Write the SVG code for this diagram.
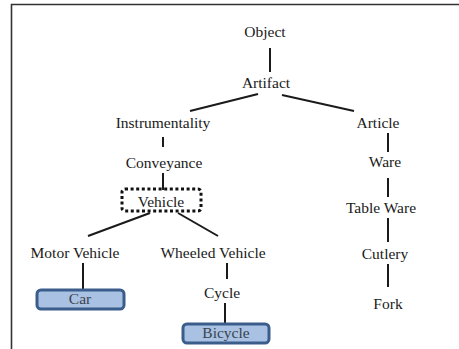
<svg xmlns="http://www.w3.org/2000/svg" width="459" height="349" viewBox="0 0 459 349">
<style>
text{font-family:"Liberation Serif","Times New Roman",serif;font-size:15.5px;fill:#1a1a1a;text-anchor:middle}
.c line{stroke:#1a1a1a;stroke-width:2;fill:none}
.leaf{fill:#a9c1e2;stroke:#3b5d8c;stroke-width:3}
.leaf-t{fill:#3a4450}
.dot{fill:none;stroke:#111;stroke-width:3;stroke-dasharray:3 2.6}
</style>
<rect width="459" height="349" fill="#fff"/>
<path d="M11.5 349V4.5H459" fill="none" stroke="#333" stroke-width="1.6"/>
<g id="connectors" class="c">
<line x1="270" y1="48" x2="270" y2="72"/>
<line x1="258" y1="94" x2="190" y2="111"/>
<line x1="282" y1="95" x2="354" y2="111"/>
<line x1="163" y1="137" x2="163" y2="147"/>
<line x1="163" y1="173" x2="163" y2="190"/>
<line x1="150" y1="213" x2="88" y2="236"/>
<line x1="178" y1="213" x2="218" y2="236"/>
<line x1="83" y1="263" x2="83" y2="289"/>
<line x1="227" y1="263" x2="227" y2="279"/>
<line x1="225" y1="303" x2="225" y2="323"/>
<line x1="388" y1="133" x2="388" y2="152"/>
<line x1="388" y1="178" x2="388" y2="197"/>
<line x1="388" y1="218" x2="388" y2="242"/>
<line x1="388" y1="264" x2="388" y2="287"/>
</g>
<g id="object"><text x="265" y="37">Object</text></g>
<g id="artifact"><text x="266" y="88">Artifact</text></g>
<g id="instrumentality"><text x="163" y="128">Instrumentality</text></g>
<g id="conveyance"><text x="164" y="168">Conveyance</text></g>
<g id="vehicle"><rect class="dot" x="122" y="189" width="79" height="22" rx="3"/><text x="161" y="207">Vehicle</text></g>
<g id="motor-vehicle"><text x="75" y="258">Motor Vehicle</text></g>
<g id="car"><rect class="leaf" x="37" y="290" width="87" height="19" rx="4"/><text class="leaf-t" x="80" y="304">Car</text></g>
<g id="wheeled-vehicle"><text x="213" y="258">Wheeled Vehicle</text></g>
<g id="cycle"><text x="222" y="298">Cycle</text></g>
<g id="bicycle"><rect class="leaf" x="183" y="324" width="86" height="19" rx="4"/><text class="leaf-t" x="226" y="338">Bicycle</text></g>
<g id="article"><text x="378" y="128">Article</text></g>
<g id="ware"><text x="385" y="167">Ware</text></g>
<g id="table-ware"><text x="381" y="213">Table Ware</text></g>
<g id="cutlery"><text x="385" y="259">Cutlery</text></g>
<g id="fork"><text x="388" y="309">Fork</text></g>
</svg>
